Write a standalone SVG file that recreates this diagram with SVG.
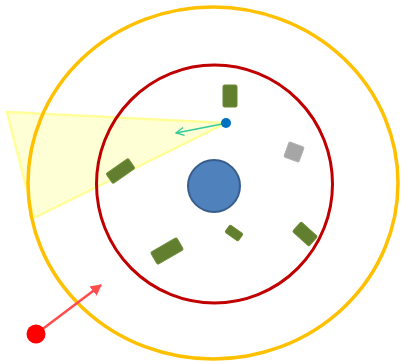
<svg xmlns="http://www.w3.org/2000/svg" width="403" height="362" viewBox="0 0 403 362">
<style>
.obs{fill:#617f2f;stroke:#6b8a35;stroke-width:1}
</style>
<defs>
<marker id="ag" markerWidth="10" markerHeight="10" refX="9" refY="5" orient="auto" markerUnits="userSpaceOnUse"><path d="M1,1 L9,5 L1,9" fill="none" stroke="#33cc99" stroke-width="1.3"/></marker>
<marker id="ar" markerWidth="12" markerHeight="12" refX="10" refY="6" orient="auto" markerUnits="userSpaceOnUse"><path d="M0,0 L11,6 L0,12 Z" fill="#ff4d4d"/></marker>
</defs>
<rect width="403" height="362" fill="#ffffff"/>
<g id="fov"><polygon points="7,112 226,123 34,218" fill="#ffffcc" fill-opacity="0.8" stroke="#ffff99" stroke-width="2.5"/></g>
<g id="outer-ring"><ellipse cx="213" cy="183" rx="185" ry="176" fill="none" stroke="#ffc000" stroke-width="3.5"/></g>
<g id="inner-ring"><ellipse cx="214.5" cy="184" rx="118" ry="119" fill="none" stroke="#c00000" stroke-width="3"/></g>
<g id="center"><circle cx="214" cy="186" r="26" fill="#4f81bd" stroke="#385d8a" stroke-width="2"/></g>
<g id="obs1"><rect class="obs" x="223" y="85" width="14" height="22" rx="1.5"/></g>
<g id="obs2"><rect class="obs" x="107" y="165" width="27" height="12" rx="1.5" transform="rotate(-35 120.5 171)"/></g>
<g id="obs3"><rect class="obs" x="152" y="244" width="30" height="14" rx="1.5" transform="rotate(-30 167 251)"/></g>
<g id="obs4"><rect class="obs" x="226" y="228.5" width="16" height="9" rx="1.5" transform="rotate(35 234 233)"/></g>
<g id="obs5"><rect class="obs" x="294" y="227.5" width="22" height="13" rx="1.5" transform="rotate(42 305 234)"/></g>
<g id="gray"><rect x="286" y="144" width="16" height="16" rx="1.5" fill="#a6a6a6" stroke="#b0b0b0" transform="rotate(20 294 152)"/></g>
<g id="connectors">
<line x1="222" y1="124" x2="176" y2="133" stroke="#33cc99" stroke-width="1.5" marker-end="url(#ag)"/>
<line x1="36" y1="334" x2="101" y2="285" stroke="#ff4d4d" stroke-width="2.5" marker-end="url(#ar)"/>
</g>
<g id="robot"><circle cx="226" cy="123" r="5" fill="#0070c0"/></g>
<g id="target"><circle cx="36" cy="334" r="9.5" fill="#ff0000"/></g>
</svg>
